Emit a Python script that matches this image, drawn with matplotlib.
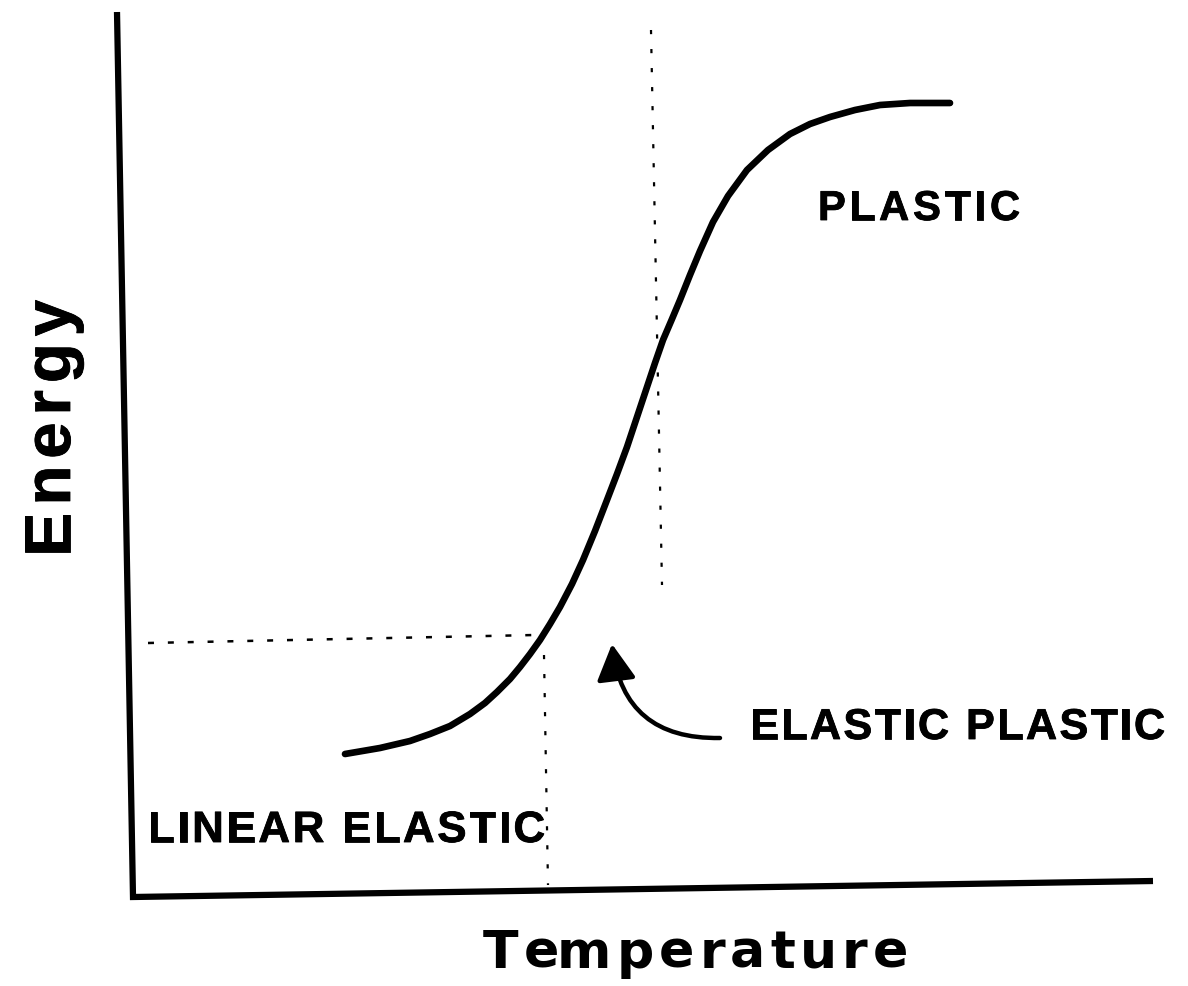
import matplotlib
matplotlib.use("Agg")
import matplotlib.pyplot as plt
import matplotlib.patheffects as pe
from matplotlib.patches import FancyArrowPatch, ArrowStyle

plt.rcParams['lines.scale_dashes'] = False
FONT = 'Liberation Sans'
WIDE_FONT = 'DejaVu Sans'

# schematic, in image units (x right, y down)
curve_x = [345, 380, 410, 430, 450, 470, 485, 497, 510, 520, 530, 540, 550,
           560, 572, 583, 595, 607, 617, 627, 637, 647, 655, 663, 672, 680,
           690, 700, 713, 728, 747, 768, 790, 810, 830, 855, 880, 910, 950]
curve_y = [754, 748, 741, 734, 726, 714, 703, 692, 679, 667, 654, 640, 624,
           607, 584, 560, 531, 500, 474, 447, 417, 387, 363, 340, 319, 300,
           275, 251, 222, 196, 170, 150, 134, 124, 117, 110, 105, 103, 103]

axis_x = [117, 133, 1153]
axis_y = [12, 897, 881]

# guide lines between the regions
upper_guide_x = [651, 662]
upper_guide_y = [30, 585]
lower_guide_x = [544, 548]
lower_guide_y = [655, 885]
level_guide_x = [148, 535]
level_guide_y = [643, 635]

arrow_start = (720, 738)
arrow_end = (612, 644)

# label, left x, baseline y, width, size, font, extra stroke
labels = [
    ("PLASTIC", 818, 220, 202, 30, FONT, 0.6),
    ("ELASTIC PLASTIC", 750, 739, 415, 31, FONT, 0.6),
    ("LINEAR ELASTIC", 148, 842, 397, 31.5, FONT, 0.6),
    ("Temperature", 483, 968, 425, 37.5, WIDE_FONT, 0),
]
ylabel = ("Energy", 70, 556, 256, 47, FONT, 0.6)

fig = plt.figure(figsize=(11.88, 9.86), dpi=100)
ax = fig.add_axes([0, 0, 1, 1])
ax.set_xlim(0, 1188)
ax.set_ylim(986, 0)
ax.axis('off')

ax.plot(axis_x, axis_y, color='black', lw=4.5, solid_capstyle='butt',
        solid_joinstyle='miter')
ax.plot(curve_x, curve_y, color='black', lw=4.8, solid_capstyle='round',
        solid_joinstyle='round')

ax.plot(upper_guide_x, upper_guide_y, color='black', lw=1.6,
        linestyle=(0, (3, 10.7)))
ax.plot(lower_guide_x, lower_guide_y, color='black', lw=1.6,
        linestyle=(0, (3, 10.7)))
ax.plot(level_guide_x, level_guide_y, color='black', lw=1.8,
        linestyle=(0, (4.3, 10)))

arrow = FancyArrowPatch(arrow_start, arrow_end,
                        connectionstyle="arc3,rad=-0.45",
                        arrowstyle=ArrowStyle('-|>', head_length=1.1,
                                              head_width=0.6),
                        mutation_scale=20, lw=3.2, color='black',
                        shrinkA=0, shrinkB=0)
ax.add_patch(arrow)

fig.canvas.draw()
renderer = fig.canvas.get_renderer()


def text_width(s, size, family):
    t = ax.text(0, 0, s, fontsize=size, weight='bold', family=family)
    w = t.get_window_extent(renderer).width
    t.remove()
    return w


def spaced_text(s, x0, y0, width, size, family, stroke, vertical=False):
    natural = text_width(s, size, family)
    track = (width - natural) / (len(s) - 1)
    effects = [pe.withStroke(linewidth=stroke, foreground='black')] if stroke else None
    for i, ch in enumerate(s):
        off = (text_width(s[:i], size, family) if i else 0) + i * track
        if vertical:
            x, y, rot = x0, y0 - off, 90
        else:
            x, y, rot = x0 + off, y0, 0
        ax.text(x, y, ch, fontsize=size, weight='bold', family=family,
                ha='left', va='baseline', rotation=rot,
                rotation_mode='anchor', path_effects=effects)


for s, x0, y0, w, size, family, stroke in labels:
    spaced_text(s, x0, y0, w, size, family, stroke)
spaced_text(*ylabel, vertical=True)

fig.savefig('out.png', dpi=100, facecolor='white')
